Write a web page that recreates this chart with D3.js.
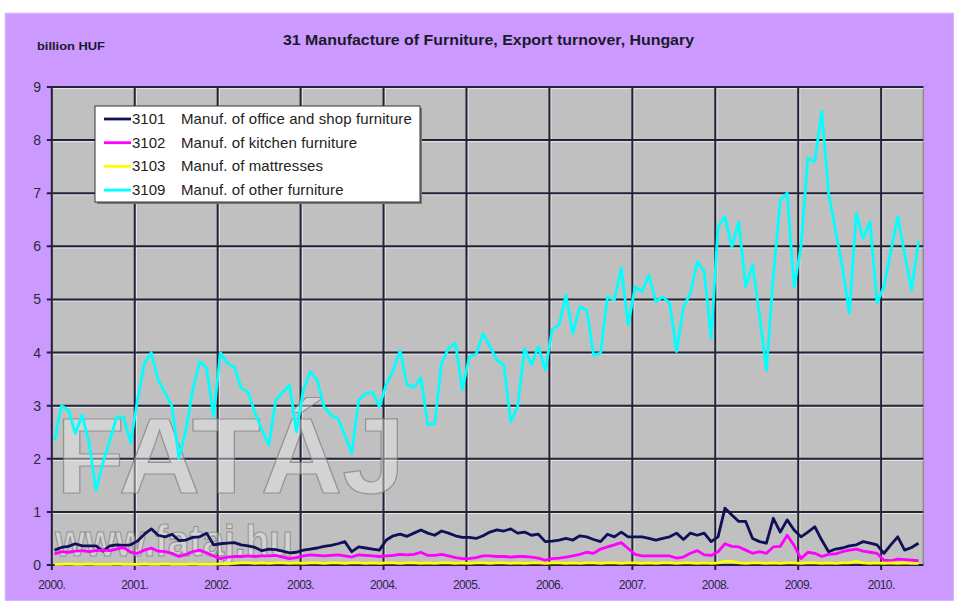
<!DOCTYPE html>
<html>
<head>
<meta charset="utf-8">
<script src="https://cdn.jsdelivr.net/npm/d3@7"></script>
<style>
  html, body { margin: 0; padding: 0; background: #fff; }
  svg { display: block; font-family: Arial, "Liberation Sans", sans-serif; }
</style>
</head>
<body>
<svg id="chart" width="954" height="601"></svg>
<script>
// months from Jan 2000 to Jun 2010, values in billion HUF
var startYear = 2000;
var yearLabels = ['2000.', '2001.', '2002.', '2003.', '2004.', '2005.', '2006.', '2007.', '2008.', '2009.', '2010.'];
var yTicks = [0, 1, 2, 3, 4, 5, 6, 7, 8, 9];

var seriesCodes = ['3101', '3102', '3103', '3109'];
var seriesNames = [
  'Manuf. of office and shop furniture',
  'Manuf. of kitchen furniture',
  'Manuf. of mattresses',
  'Manuf. of other furniture'
];
var seriesColors = ['#101058', '#ff00ff', '#ffff00', '#00ffff'];

var office = [
  0.28, 0.33, 0.35, 0.4, 0.36, 0.36, 0.36, 0.26, 0.36, 0.38, 0.37, 0.38, 0.45, 0.58, 0.68, 0.56, 0.53, 0.58, 0.46, 0.47, 0.52, 0.53, 0.6, 0.38, 0.4, 0.41, 0.42, 0.38, 0.36, 0.33,
  0.27, 0.3, 0.29, 0.26, 0.23, 0.24, 0.28, 0.3, 0.32, 0.35, 0.37, 0.4, 0.44, 0.25, 0.34, 0.32, 0.3, 0.28, 0.47, 0.55, 0.58, 0.54, 0.6, 0.66, 0.6, 0.56, 0.64, 0.6, 0.55, 0.52,
  0.52, 0.5, 0.55, 0.62, 0.66, 0.64, 0.68, 0.6, 0.62, 0.56, 0.58, 0.44, 0.45, 0.47, 0.5, 0.47, 0.55, 0.53, 0.48, 0.44, 0.58, 0.53, 0.62, 0.53, 0.53, 0.53, 0.5, 0.47, 0.5, 0.53,
  0.6, 0.48, 0.6, 0.56, 0.6, 0.44, 0.53, 1.07, 0.94, 0.82, 0.82, 0.5, 0.44, 0.41, 0.88, 0.62, 0.85, 0.66, 0.53, 0.62, 0.72, 0.47, 0.25, 0.3, 0.32, 0.36, 0.38, 0.44, 0.41, 0.38,
  0.22, 0.38, 0.53, 0.28, 0.33, 0.41
];

var kitchen = [
  0.21, 0.25, 0.24, 0.26, 0.27, 0.25, 0.27, 0.28, 0.27, 0.3, 0.33, 0.24, 0.22, 0.28, 0.32, 0.26, 0.25, 0.22, 0.16, 0.2, 0.25, 0.28, 0.23, 0.17, 0.12, 0.15, 0.16, 0.16, 0.17, 0.16,
  0.17, 0.17, 0.18, 0.15, 0.12, 0.14, 0.17, 0.19, 0.18, 0.17, 0.18, 0.19, 0.17, 0.15, 0.19, 0.18, 0.17, 0.16, 0.17, 0.18, 0.2, 0.19, 0.2, 0.24, 0.18, 0.18, 0.2, 0.17, 0.14, 0.12,
  0.12, 0.14, 0.17, 0.17, 0.16, 0.16, 0.15, 0.16, 0.16, 0.15, 0.13, 0.09, 0.12, 0.13, 0.15, 0.17, 0.2, 0.24, 0.22, 0.3, 0.34, 0.38, 0.42, 0.31, 0.2, 0.17, 0.17, 0.17, 0.17, 0.17,
  0.13, 0.15, 0.22, 0.27, 0.19, 0.18, 0.25, 0.4, 0.35, 0.34, 0.28, 0.22, 0.25, 0.22, 0.34, 0.35, 0.56, 0.37, 0.12, 0.24, 0.22, 0.16, 0.2, 0.21, 0.25, 0.28, 0.3, 0.26, 0.24, 0.22,
  0.09, 0.08, 0.11, 0.1, 0.09, 0.08
];

var mattresses = [
  0.01, 0.01, 0.02, 0.01, 0.01, 0.02, 0.01, 0.01, 0.01, 0.02, 0.01, 0.01, 0.01, 0.02, 0.01, 0.01, 0.02, 0.01, 0.01, 0.01, 0.02, 0.01, 0.01, 0.01, 0.02, 0.02, 0.03, 0.04, 0.04, 0.03,
  0.04, 0.03, 0.04, 0.04, 0.03, 0.04, 0.03, 0.04, 0.04, 0.03, 0.04, 0.04, 0.03, 0.04, 0.04, 0.03, 0.04, 0.03, 0.04, 0.04, 0.03, 0.04, 0.04, 0.03, 0.04, 0.03, 0.04, 0.04, 0.03, 0.04,
  0.03, 0.04, 0.04, 0.03, 0.04, 0.04, 0.03, 0.04, 0.03, 0.04, 0.04, 0.03, 0.04, 0.04, 0.03, 0.04, 0.03, 0.04, 0.04, 0.03, 0.04, 0.04, 0.03, 0.04, 0.04, 0.03, 0.04, 0.03, 0.04, 0.04,
  0.03, 0.04, 0.04, 0.03, 0.04, 0.03, 0.04, 0.07, 0.07, 0.04, 0.03, 0.04, 0.04, 0.03, 0.04, 0.03, 0.04, 0.04, 0.03, 0.04, 0.04, 0.03, 0.04, 0.03, 0.04, 0.04, 0.07, 0.04, 0.03, 0.04,
  0.03, 0.04, 0.03, 0.04, 0.03, 0.03
];

var other = [
  2.35, 3.0, 2.92, 2.48, 2.82, 2.3, 1.41, 1.92, 2.35, 2.79, 2.79, 2.3, 3.1, 3.8, 4.0, 3.48, 3.24, 2.98, 2.01, 2.54, 3.3, 3.83, 3.71, 2.8, 4.0, 3.8, 3.73, 3.33, 3.26, 2.86,
  2.55, 2.26, 3.1, 3.25, 3.39, 2.51, 3.3, 3.64, 3.48, 2.98, 2.82, 2.76, 2.45, 2.1, 3.1, 3.23, 3.25, 2.98, 3.4, 3.67, 4.04, 3.39, 3.35, 3.52, 2.64, 2.66, 3.8, 4.08, 4.18, 3.3,
  3.92, 3.97, 4.36, 4.11, 3.86, 3.77, 2.7, 2.98, 4.08, 3.77, 4.11, 3.67, 4.43, 4.52, 5.08, 4.36, 4.86, 4.8, 3.95, 3.99, 5.05, 4.99, 5.59, 4.52, 5.24, 5.15, 5.46, 4.96, 5.05, 4.93,
  4.02, 4.86, 5.12, 5.71, 5.52, 4.27, 6.37, 6.56, 5.99, 6.46, 5.24, 5.65, 4.7, 3.67, 5.43, 6.87, 7.0, 5.24, 5.99, 7.66, 7.6, 8.54, 7.0, 6.3, 5.6, 4.74, 6.62, 6.15, 6.46, 4.93,
  5.24, 5.9, 6.56, 5.85, 5.18, 6.09
];

var allSeries = [office, kitchen, mattresses, other];

var svg = d3.select('#chart');

var plot = { left: 51.8, right: 923.3, top: 87, bottom: 565 };

/**
 * Scales: x in months since Jan 2000, y in billion HUF
 */
var x = d3.scaleLinear()
  .domain([0, 126.1])
  .range([plot.left, plot.right]);

var y = d3.scaleLinear()
  .domain([0, 9])
  .range([plot.bottom, plot.top]);

// background
svg.append('rect')
  .attr('x', 5).attr('y', 13)
  .attr('width', 949).attr('height', 588)
  .attr('fill', '#cc99ff')
  .attr('stroke', '#e2ccff')
  .attr('stroke-width', 1);

svg.append('text')
  .attr('x', 283).attr('y', 45)
  .attr('font-size', 15)
  .attr('font-weight', 'bold')
  .attr('textLength', 411)
  .attr('lengthAdjust', 'spacingAndGlyphs')
  .attr('fill', '#1a1a2a')
  .text('31 Manufacture of Furniture, Export turnover, Hungary');

svg.append('text')
  .attr('x', 37).attr('y', 50)
  .attr('font-size', 10)
  .attr('font-weight', 'bold')
  .attr('textLength', 68)
  .attr('lengthAdjust', 'spacingAndGlyphs')
  .attr('fill', '#1a1a2a')
  .text('billion HUF');

// plot area
svg.append('rect')
  .attr('x', plot.left).attr('y', plot.top)
  .attr('width', plot.right - plot.left)
  .attr('height', plot.bottom - plot.top)
  .attr('fill', '#c0c0c0')
  .attr('stroke', '#8c8c8c')
  .attr('stroke-width', 1.5);

var grid = svg.append('g').attr('class', 'grid');

var yearIdx = d3.range(yearLabels.length);

// light highlight next to each grid line
grid.selectAll('line.vhl')
  .data(yearIdx.slice(1))
  .enter().append('line')
  .attr('class', 'vhl')
  .attr('x1', function (d) { return x(d * 12) + 1.6; })
  .attr('x2', function (d) { return x(d * 12) + 1.6; })
  .attr('y1', plot.top).attr('y2', plot.bottom)
  .attr('stroke', '#e8e8e8').attr('stroke-width', 1);

grid.selectAll('line.hhl')
  .data(yTicks.slice(1))
  .enter().append('line')
  .attr('class', 'hhl')
  .attr('x1', plot.left).attr('x2', plot.right)
  .attr('y1', function (d) { return y(d) + 1.6; })
  .attr('y2', function (d) { return y(d) + 1.6; })
  .attr('stroke', '#e8e8e8').attr('stroke-width', 1);

grid.selectAll('line.v')
  .data(yearIdx)
  .enter().append('line')
  .attr('class', 'v')
  .attr('x1', function (d) { return x(d * 12); })
  .attr('x2', function (d) { return x(d * 12); })
  .attr('y1', plot.top).attr('y2', plot.bottom + 5)
  .attr('stroke', '#22223a').attr('stroke-width', 2);

grid.selectAll('line.h')
  .data(yTicks)
  .enter().append('line')
  .attr('class', 'h')
  .attr('x1', plot.left - 5).attr('x2', plot.right)
  .attr('y1', function (d) { return y(d); })
  .attr('y2', function (d) { return y(d); })
  .attr('stroke', '#22223a').attr('stroke-width', 2);

// watermark
var mark = svg.append('g').attr('class', 'watermark');

mark.append('text')
  .attr('x', 56).attr('y', 493)
  .attr('font-size', 108)
  .attr('font-weight', 'bold')
  .attr('textLength', 349)
  .attr('lengthAdjust', 'spacingAndGlyphs')
  .attr('fill', '#ececec').attr('fill-opacity', 0.45)
  .attr('stroke', '#7c7c7c').attr('stroke-opacity', 0.7).attr('stroke-width', 1.2)
  .text('FATÁJ');

mark.append('text')
  .attr('x', 55).attr('y', 556)
  .attr('font-size', 44)
  .attr('font-weight', 'bold')
  .attr('textLength', 238)
  .attr('lengthAdjust', 'spacingAndGlyphs')
  .attr('fill', '#ececec').attr('fill-opacity', 0.45)
  .attr('stroke', '#7c7c7c').attr('stroke-opacity', 0.7).attr('stroke-width', 1.2)
  .text('www.fataj.hu');

// axis labels
svg.append('g')
  .selectAll('text')
  .data(yTicks)
  .enter().append('text')
  .attr('x', 41)
  .attr('y', function (d) { return y(d) + 5; })
  .attr('text-anchor', 'end')
  .attr('font-size', 14)
  .attr('fill', '#2a2a3a')
  .text(function (d) { return d; });

svg.append('g')
  .selectAll('text')
  .data(yearLabels)
  .enter().append('text')
  .attr('x', function (d, i) { return x(i * 12); })
  .attr('y', 589)
  .attr('text-anchor', 'middle')
  .attr('font-size', 12)
  .attr('letter-spacing', -0.6)
  .attr('fill', '#2a2a3a')
  .text(function (d) { return d; });

// series lines
var line = d3.line()
  .x(function (d, i) { return x(i + 0.4); })
  .y(function (d) { return y(d); });

svg.append('g')
  .selectAll('path')
  .data(allSeries)
  .enter().append('path')
  .attr('d', line)
  .attr('fill', 'none')
  .attr('stroke', function (d, i) { return seriesColors[i]; })
  .attr('stroke-width', 2.8)
  .attr('stroke-linejoin', 'round');

// legend
var legend = svg.append('g').attr('transform', 'translate(95,106)');

legend.append('rect')
  .attr('x', 2).attr('y', 2)
  .attr('width', 325).attr('height', 96)
  .attr('fill', '#777');

legend.append('rect')
  .attr('width', 325).attr('height', 96)
  .attr('fill', '#fff')
  .attr('stroke', '#333')
  .attr('stroke-width', 1);

var rows = legend.selectAll('g.row')
  .data(seriesCodes)
  .enter().append('g')
  .attr('class', 'row')
  .attr('transform', function (d, i) { return 'translate(0,' + (13 + i * 23.7) + ')'; });

rows.append('line')
  .attr('x1', 9).attr('x2', 36)
  .attr('stroke', function (d, i) { return seriesColors[i]; })
  .attr('stroke-width', 2.8);

rows.append('text')
  .attr('x', 37).attr('y', 5)
  .attr('font-size', 15)
  .attr('fill', '#222')
  .text(function (d) { return d; });

rows.append('text')
  .attr('x', 86).attr('y', 5)
  .attr('font-size', 15)
  .attr('letter-spacing', 0.1)
  .attr('fill', '#222')
  .text(function (d, i) { return seriesNames[i]; });
</script>
</body>
</html>
